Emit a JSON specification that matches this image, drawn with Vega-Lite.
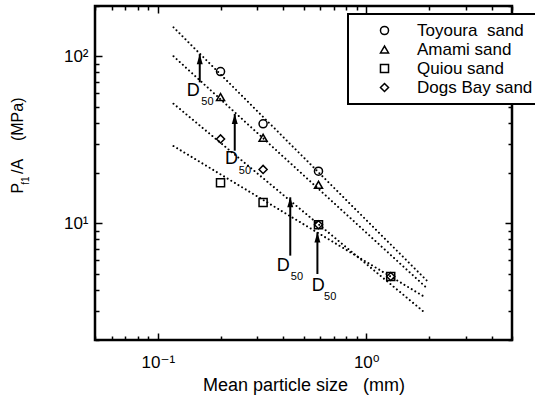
{
  "$schema": "https://vega.github.io/schema/vega-lite/v6.json",
  "width": 417,
  "height": 334,
  "autosize": {"type": "none"},
  "padding": {"left": 95, "top": 6, "right": 23, "bottom": 57},
  "background": "white",
  "config": {
    "view": {"stroke": "black", "strokeWidth": 2.5},
    "axis": {
      "domain": false, "grid": false, "ticks": true, "tickColor": "black", "tickWidth": 1.5,
      "labelColor": "black", "titleColor": "black",
      "labelFont": "Liberation Sans, DejaVu Sans", "labelFontSize": 17,
      "titleFont": "Liberation Sans, DejaVu Sans", "titleFontWeight": "normal",
      "labelOverlap": false
    },
    "legend": {"strokeWidth": 2}
  },
  "datasets": {
    "pts": [
      {"sand": "Toyoura sand", "d": 0.2, "p": 81},
      {"sand": "Toyoura sand", "d": 0.32, "p": 39.4},
      {"sand": "Toyoura sand", "d": 0.59, "p": 20.5},
      {"sand": "Amami sand", "d": 0.2, "p": 57},
      {"sand": "Amami sand", "d": 0.32, "p": 32.5},
      {"sand": "Amami sand", "d": 0.59, "p": 17},
      {"sand": "Quiou sand", "d": 0.2, "p": 17.5},
      {"sand": "Quiou sand", "d": 0.32, "p": 13.3},
      {"sand": "Quiou sand", "d": 0.59, "p": 9.8},
      {"sand": "Quiou sand", "d": 1.31, "p": 4.8},
      {"sand": "Dogs Bay sand", "d": 0.2, "p": 32},
      {"sand": "Dogs Bay sand", "d": 0.32, "p": 21},
      {"sand": "Dogs Bay sand", "d": 0.59, "p": 9.8},
      {"sand": "Dogs Bay sand", "d": 1.31, "p": 4.8}
    ],
    "fits": [
      {"sand": "Toyoura sand", "d": 0.119, "p": 149},
      {"sand": "Toyoura sand", "d": 2.0, "p": 4.4},
      {"sand": "Amami sand", "d": 0.119, "p": 100},
      {"sand": "Amami sand", "d": 1.95, "p": 4.1},
      {"sand": "Dogs Bay sand", "d": 0.119, "p": 52},
      {"sand": "Dogs Bay sand", "d": 1.92, "p": 2.9},
      {"sand": "Quiou sand", "d": 0.119, "p": 29},
      {"sand": "Quiou sand", "d": 1.92, "p": 3.6}
    ],
    "arrows": [
      {"d": 0.159, "p0": 69.8, "p1": 103},
      {"d": 0.234, "p0": 27.2, "p1": 45.1},
      {"d": 0.432, "p0": 6.4, "p1": 14.3},
      {"d": 0.583, "p0": 4.97, "p1": 8.82}
    ],
    "dlab": [
      {"d": 0.148, "p": 62.2, "t": "D"},
      {"d": 0.226, "p": 24.3, "t": "D"},
      {"d": 0.40, "p": 5.57, "t": "D"},
      {"d": 0.589, "p": 4.23, "t": "D"}
    ],
    "sublab": [
      {"d": 0.173, "p": 53, "t": "50"},
      {"d": 0.262, "p": 20.5, "t": "50"},
      {"d": 0.465, "p": 4.74, "t": "50"},
      {"d": 0.671, "p": 3.6, "t": "50"}
    ]
  },
  "resolve": {"axis": {"x": "independent", "y": "independent"}},
  "layer": [
    {
      "data": {"name": "fits"},
      "mark": {"type": "line", "color": "black", "strokeWidth": 2, "strokeDash": [0.01, 4.2], "strokeCap": "round"},
      "encoding": {
        "x": {"field": "d", "type": "quantitative", "scale": {"type": "log", "domain": [0.05, 5]},
          "axis": {"orient": "bottom", "values": [0.1, 1], "offset": -7, "tickSize": 7,
            "labelExpr": "datum.value == 0.1 ? '10⁻¹' : '10⁰'",
            "labelPadding": 27, "labelBaseline": "alphabetic",
            "title": "Mean particle size\u00a0\u00a0\u00a0(mm)", "titleFontSize": 18, "titleY": 57, "titleBaseline": "alphabetic"}},
        "y": {"field": "p", "type": "quantitative", "scale": {"type": "log", "domain": [2, 200]},
          "axis": {"orient": "left", "values": [10, 100], "offset": -7, "tickSize": 7,
            "labelExpr": "datum.value == 10 ? '10¹' : '10²'",
            "labelPadding": 7,
            "title": "P\u00a0\u00a0/A\u00a0\u00a0\u00a0\u00a0(MPa)", "titleFontSize": 16, "titleAngle": 270,
            "titleAlign": "center", "titleBaseline": "alphabetic", "titleX": -80, "titleY": 139}},
        "detail": {"field": "sand"}
      }
    },
    {
      "data": {"name": "pts"},
      "mark": {"type": "point", "filled": false, "color": "black", "strokeWidth": 1.5, "size": 65, "opacity": 1},
      "encoding": {
        "x": {"field": "d", "type": "quantitative", "scale": {"type": "log", "domain": [0.05, 5]},
          "axis": {"orient": "top", "values": [0.1, 1], "offset": -7, "tickSize": 7, "labels": false, "title": null}},
        "y": {"field": "p", "type": "quantitative", "scale": {"type": "log", "domain": [2, 200]},
          "axis": {"orient": "right", "values": [10, 100], "offset": -7, "tickSize": 7, "labels": false, "title": null}},
        "shape": {"field": "sand", "type": "nominal",
          "scale": {"domain": ["Toyoura sand", "Amami sand", "Quiou sand", "Dogs Bay sand"],
                    "range": ["circle", "triangle-up", "square", "diamond"]},
          "legend": {"orient": "none", "legendX": 253, "legendY": 8, "title": null,
            "labelExpr": "datum.label == 'Toyoura sand' ? 'Toyoura\u00a0\u00a0sand' : datum.label",
            "strokeColor": "black", "fillColor": "white", "padding": 8,
            "labelFont": "Liberation Sans", "labelFontSize": 17, "labelColor": "black",
            "symbolOffset": 20, "labelOffset": 24, "rowPadding": 1, "symbolSize": 65,
            "symbolStrokeColor": "black", "symbolStrokeWidth": 1.5}}
      }
    },
    {
      "data": {"name": "arrows"},
      "mark": {"type": "rule", "color": "black", "strokeWidth": 2},
      "encoding": {
        "x": {"field": "d", "type": "quantitative", "scale": {"type": "log", "domain": [0.05, 5]},
          "axis": {"orient": "bottom", "values": [0.05,0.06,0.07,0.08,0.09,0.2,0.3,0.4,0.5,0.6,0.7,0.8,0.9,2,3,4,5],
            "offset": -4, "tickSize": 4, "labels": false, "title": null}},
        "y": {"field": "p0", "type": "quantitative", "scale": {"type": "log", "domain": [2, 200]},
          "axis": {"orient": "left", "values": [2,3,4,5,6,7,8,9,20,30,40,50,60,70,80,90,200],
            "offset": -4, "tickSize": 4, "labels": false, "title": null}},
        "y2": {"field": "p1"}
      }
    },
    {
      "data": {"name": "arrows"},
      "mark": {"type": "point", "shape": "M0,0L-0.75,2.5L0.75,2.5Z", "filled": true, "color": "black", "size": 64, "opacity": 1},
      "encoding": {
        "x": {"field": "d", "type": "quantitative", "scale": {"type": "log", "domain": [0.05, 5]},
          "axis": {"orient": "top", "values": [0.05,0.06,0.07,0.08,0.09,0.2,0.3,0.4,0.5,0.6,0.7,0.8,0.9,2,3,4,5],
            "offset": -4, "tickSize": 4, "labels": false, "title": null}},
        "y": {"field": "p1", "type": "quantitative", "scale": {"type": "log", "domain": [2, 200]},
          "axis": {"orient": "right", "values": [2,3,4,5,6,7,8,9,20,30,40,50,60,70,80,90,200],
            "offset": -4, "tickSize": 4, "labels": false, "title": null}}
      }
    },
    {
      "data": {"name": "dlab"},
      "mark": {"type": "text", "font": "Liberation Sans", "fontSize": 18, "color": "black", "align": "center", "baseline": "middle"},
      "encoding": {
        "x": {"field": "d", "type": "quantitative", "scale": {"type": "log", "domain": [0.05, 5]}, "axis": null},
        "y": {"field": "p", "type": "quantitative", "scale": {"type": "log", "domain": [2, 200]},
          "axis": {"orient": "left", "ticks": false, "labels": false,
            "title": "f1", "titleFontSize": 10, "titleAngle": 270, "titleAlign": "center",
            "titleBaseline": "alphabetic", "titleX": -67, "titleY": 174}},
        "text": {"field": "t"}
      }
    },
    {
      "data": {"name": "sublab"},
      "mark": {"type": "text", "font": "Liberation Sans", "fontSize": 11, "color": "black", "align": "center", "baseline": "middle"},
      "encoding": {
        "x": {"field": "d", "type": "quantitative", "scale": {"type": "log", "domain": [0.05, 5]}, "axis": null},
        "y": {"field": "p", "type": "quantitative", "scale": {"type": "log", "domain": [2, 200]}, "axis": null},
        "text": {"field": "t"}
      }
    }
  ]
}
